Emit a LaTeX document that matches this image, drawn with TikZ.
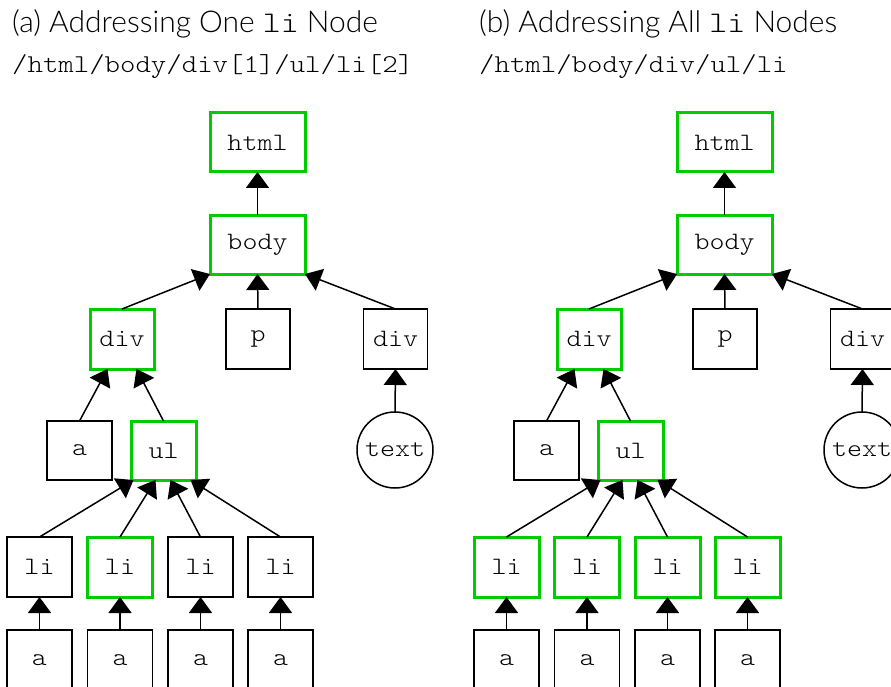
\documentclass[tikz,border=0pt]{standalone}
\usepackage{fontspec}
\setmainfont{Lato}[UprightFont=* Light]
\setmonofont{Latin Modern Mono Light}[FakeStretch=1.143]
\usetikzlibrary{arrows.meta}
\definecolor{hl}{HTML}{00CC00}
\begin{document}
\begin{tikzpicture}[x=1pt,y=-1pt,
  box/.style={draw=black,line width=1.5pt,rectangle,inner sep=0pt,outer sep=0pt,minimum width=65pt,minimum height=60pt,font=\fontsize{25}{25}\ttfamily},
  wide/.style={box,minimum width=95pt,minimum height=59pt},
  green/.style={draw=hl,line width=3pt},
  circ/.style={draw=black,line width=1.5pt,circle,inner sep=0pt,outer sep=0pt,minimum size=76pt,font=\fontsize{25}{25}\ttfamily},
  edge/.style={line width=1.5pt,-{Triangle[length=16pt,width=23pt]}},
  title/.style={anchor=base west,inner sep=0pt,font=\fontsize{30}{30}\selectfont},
  xpath/.style={anchor=base west,inner sep=0pt,font=\fontsize{25.7}{26}\ttfamily}
]
\useasboundingbox (0,0) rectangle (891,687);
\node[title] (ta) at (12,33) {(a) Addressing One {\ttfamily li} Node};
\node[xpath] (pa) at (12,73) {/html/body/div[1]/ul/li[2]};
\node[title] (tb) at (479,33) {(b) Addressing All {\ttfamily li} Nodes};
\node[xpath] (pb) at (479,73) {/html/body/div/ul/li};
\foreach \p/\dx/\lia/\lib/\lic/\lid in {L/0/box/green/box/box, R/467/green/green/green/green}{
  \begin{scope}[xshift=\dx]
  \node[wide,green] (html\p) at (257.5,142.5) {html};
  \node[wide,green] (body\p) at (257.5,244.5) {body};
  \node[box,green,minimum width=64pt] (divA\p) at (122,339) {div};
  \node[box,minimum width=64pt] (p\p) at (258,339) {p};
  \node[box,minimum width=64pt] (divB\p) at (395.5,339) {div};
  \node[box,minimum height=59pt] (a\p) at (79.5,450.5) {a};
  \node[box,green,minimum height=59pt] (ul\p) at (163.5,450.5) {ul};
  \node[circ] (text\p) at (395,450) {text};
  \node[box,\lia] (liA\p) at (39.5,567) {li};
  \node[box,\lib] (liB\p) at (120,567) {li};
  \node[box,\lic] (liC\p) at (200.5,567) {li};
  \node[box,\lid] (liD\p) at (280.5,567) {li};
  \node[box] (aA\p) at (39.5,660) {a};
  \node[box] (aB\p) at (120,660) {a};
  \node[box] (aC\p) at (200.5,660) {a};
  \node[box] (aD\p) at (280.5,660) {a};
  \end{scope}
  \draw[edge] (body\p.north) -- (html\p.south);
  \draw[edge] (divA\p.north) -- (body\p.south west);
  \draw[edge] (p\p.north) -- (body\p.south);
  \draw[edge] (divB\p.north) -- (body\p.south east);
  \draw[edge] (a\p.north) -- ([xshift=-14.5pt]divA\p.south);
  \draw[edge] (ul\p.north) -- ([xshift=14.5pt]divA\p.south);
  \draw[edge] (text\p.north) -- (divB\p.south);
  \draw[edge] (liA\p.north) -- ([xshift=-30pt]ul\p.south);
  \draw[edge] (liB\p.north) -- ([xshift=-8pt]ul\p.south);
  \draw[edge] (liC\p.north) -- ([xshift=7pt]ul\p.south);
  \draw[edge] (liD\p.north) -- ([xshift=27pt]ul\p.south);
  \draw[edge] (aA\p.north) -- (liA\p.south);
  \draw[edge] (aB\p.north) -- (liB\p.south);
  \draw[edge] (aC\p.north) -- (liC\p.south);
  \draw[edge] (aD\p.north) -- (liD\p.south);
}
\end{tikzpicture}
\end{document}
